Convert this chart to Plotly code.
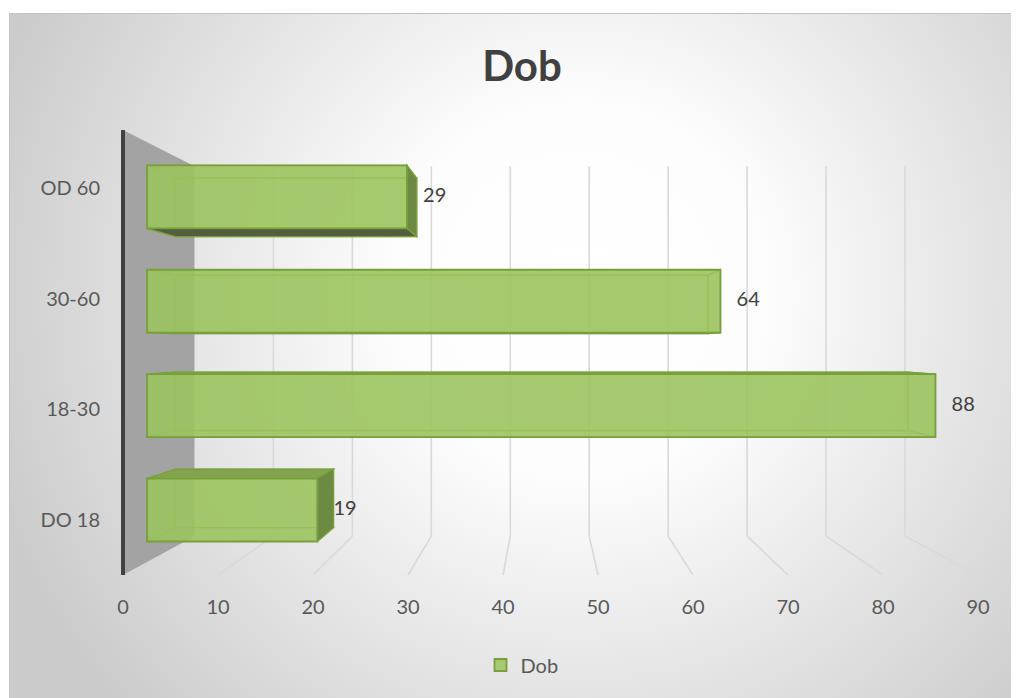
import base64
import plotly.graph_objects as go

# ---------------- data ----------------
categories = ["DO 18", "18-30", "30-60", "OD 60"]
values = [19, 88, 64, 29]
x_ticks = [0, 10, 20, 30, 40, 50, 60, 70, 80, 90]
series_name = "Dob"
chart_title = "Dob"

# ---------------- geometry / style ----------------
OFF = 8                                        # page body margin of the html page
W, H = 1019 - OFF, 698 - OFF
PL, PR, PT, PB = 101 - OFF, 1000 - OFF, 120 - OFF, 593 - OFF   # plot area in pixels
X0PX, XSC = 123 - OFF, 9.5                     # px of value 0 on the front plane, px per unit
Y0PX, YSC = 520 - OFF, 110.7                   # px of first category on front plane, px per category
VX = (546 - OFF - X0PX) / XSC                  # vanishing point (data units)
VY = (Y0PX - (345 - OFF)) / YSC
S_F, S_B = 0.943, 0.876                        # depth of bar front / back faces
S_W = 0.831                                    # depth of back wall
C_TOP = (Y0PX - (130 - OFF)) / YSC
C_BOT = (Y0PX - (575 - OFF)) / YSC
BAR_H = 0.603

FONT = "Lato"
GREEN = "rgba(156,196,94,0.86)"
EDGE = "#77a03c"


def P(v, c, s):
    return (VX + s * (v - VX), VY + s * (c - VY))


def path(pts):
    return "M " + " L ".join(f"{x:.4f},{y:.4f}" for x, y in pts) + " Z"


def lpath(pts):
    return "M " + " L ".join(f"{x:.4f},{y:.4f}" for x, y in pts)


shapes = []
# side wall (value = 0 plane)
shapes.append(dict(type="path", xref="x", yref="y", layer="below",
                   path=path([P(0, C_TOP, 1), P(0, C_TOP, S_W), P(0, C_BOT, S_W), P(0, C_BOT, 1)]),
                   fillcolor="#a3a3a3", line=dict(width=0)))
# gridlines (back plane + floor)
for t in x_ticks[1:]:
    shapes.append(dict(type="path", xref="x", yref="y", layer="below",
                       path=lpath([P(t, C_TOP, S_W), P(t, C_BOT, S_W), P(t, C_BOT, 1)]),
                       line=dict(color="#d9d9d9", width=1.6)))

# bar faces other than the front
for cat_i, v in enumerate(values):
    c = cat_i
    y0, y1 = c - BAR_H / 2, c + BAR_H / 2
    faces_hidden, faces_vis = [], []
    back = [P(0, y0, S_B), P(v, y0, S_B), P(v, y1, S_B), P(0, y1, S_B)]
    left = [P(0, y0, S_F), P(0, y0, S_B), P(0, y1, S_B), P(0, y1, S_F)]
    top = [P(0, y1, S_F), P(v, y1, S_F), P(v, y1, S_B), P(0, y1, S_B)]
    bot = [P(0, y0, S_F), P(v, y0, S_F), P(v, y0, S_B), P(0, y0, S_B)]
    right = [P(v, y0, S_F), P(v, y0, S_B), P(v, y1, S_B), P(v, y1, S_F)]
    faces_hidden += [back, left]
    if y1 < VY:
        faces_vis.append((top, "#83a44e"))
        faces_hidden.append(bot)
    else:
        faces_hidden.append(top)
    if y0 > VY:
        faces_vis.append((bot, "#525e3c"))
    if v < VX:
        faces_vis.append((right, "#6d8a43"))
    else:
        faces_hidden.append(right)
    for f in faces_hidden:
        shapes.append(dict(type="path", xref="x", yref="y", layer="below", path=path(f),
                           fillcolor="rgba(150,190,85,0.30)",
                           line=dict(color="rgba(125,165,60,0.75)", width=1.2)))
    for f, col in faces_vis:
        shapes.append(dict(type="path", xref="x", yref="y", layer="below", path=path(f),
                           fillcolor=col, line=dict(color=EDGE, width=1.2)))

# front axis edge (dark line)
shapes.append(dict(type="path", xref="x", yref="y", layer="below",
                   path=lpath([P(0, C_TOP, 1), P(0, C_BOT, 1)]),
                   line=dict(color="#404040", width=4)))

fig = go.Figure()

# front faces of the bars
fig.add_trace(go.Bar(
    orientation="h",
    name=series_name,
    y=[P(0, i, S_F)[1] for i in range(len(categories))],
    x=[S_F * v for v in values],
    base=[P(0, 0, S_F)[0]] * len(values),
    width=[S_F * BAR_H] * len(values),
    marker=dict(color=GREEN, line=dict(color=EDGE, width=1.8)),
    hoverinfo="skip",
    showlegend=True,
))

# data labels
fig.add_trace(go.Scatter(
    x=[P(v, i, S_F)[0] + 2.92 for i, v in enumerate(values)],
    y=[P(v, i, S_F)[1] for i, v in enumerate(values)],
    mode="text",
    text=[str(v) for v in values],
    textposition="middle center",
    textfont=dict(family=FONT, size=20, color="#404040"),
    showlegend=False,
    hoverinfo="skip",
))

# background (radial gradient chart area)
svg = f'''<svg xmlns="http://www.w3.org/2000/svg" width="{W}" height="{H}" viewBox="0 0 {W} {H}">
<defs><radialGradient id="g" gradientUnits="userSpaceOnUse" cx="{580 - OFF}" cy="{290 - OFF}" r="620">
<stop offset="0" stop-color="#ffffff"/><stop offset="0.3" stop-color="#fdfdfd"/>
<stop offset="1" stop-color="#cbcbcb"/></radialGradient></defs>
<rect x="0" y="0" width="{W}" height="{H}" fill="#ffffff"/>
<rect x="{9.5 - OFF}" y="{13.5 - OFF}" width="1015" height="690" fill="url(#g)" stroke="#c4c4c4" stroke-width="1"/>
</svg>'''
src = "data:image/svg+xml;base64," + base64.b64encode(svg.encode()).decode()
pw, ph = PR - PL, PB - PT

fig.update_layout(
    width=W, height=H,
    margin=dict(l=PL, r=W - PR, t=PT, b=H - PB, pad=0),
    paper_bgcolor="white",
    plot_bgcolor="rgba(0,0,0,0)",
    images=[dict(source=src, xref="paper", yref="paper", x=-PL / pw, y=1 + PT / ph,
                 sizex=W / pw, sizey=H / ph, xanchor="left", yanchor="top",
                 sizing="stretch", layer="below")],
    shapes=shapes,
    title=dict(text=chart_title, x=(522 - OFF) / W, y=1 - (66 - OFF) / H,
               xref="container", yref="container", xanchor="center", yanchor="middle",
               font=dict(family=FONT, size=42, color="#404040", weight="bold")),
    xaxis=dict(range=[(PL - X0PX) / XSC, (PR - X0PX) / XSC], tickvals=x_ticks,
               showgrid=False, zeroline=False, showline=False, ticks="",
               tickfont=dict(family=FONT, size=20, color="#595959"), fixedrange=True),
    yaxis=dict(range=[(Y0PX - PB) / YSC, (Y0PX - PT) / YSC], tickvals=list(range(len(categories))),
               ticktext=categories, showgrid=False, zeroline=False, showline=False, ticks="",
               tickfont=dict(family=FONT, size=20, color="#595959"), fixedrange=True),
    legend=dict(orientation="h", xref="container", yref="container",
                x=(522 - OFF) / W, y=1 - (665 - OFF) / H,
                xanchor="center", yanchor="middle",
                font=dict(family=FONT, size=20, color="#595959"), bgcolor="rgba(0,0,0,0)"),
    showlegend=True,
)

fig.write_html("out.html")
